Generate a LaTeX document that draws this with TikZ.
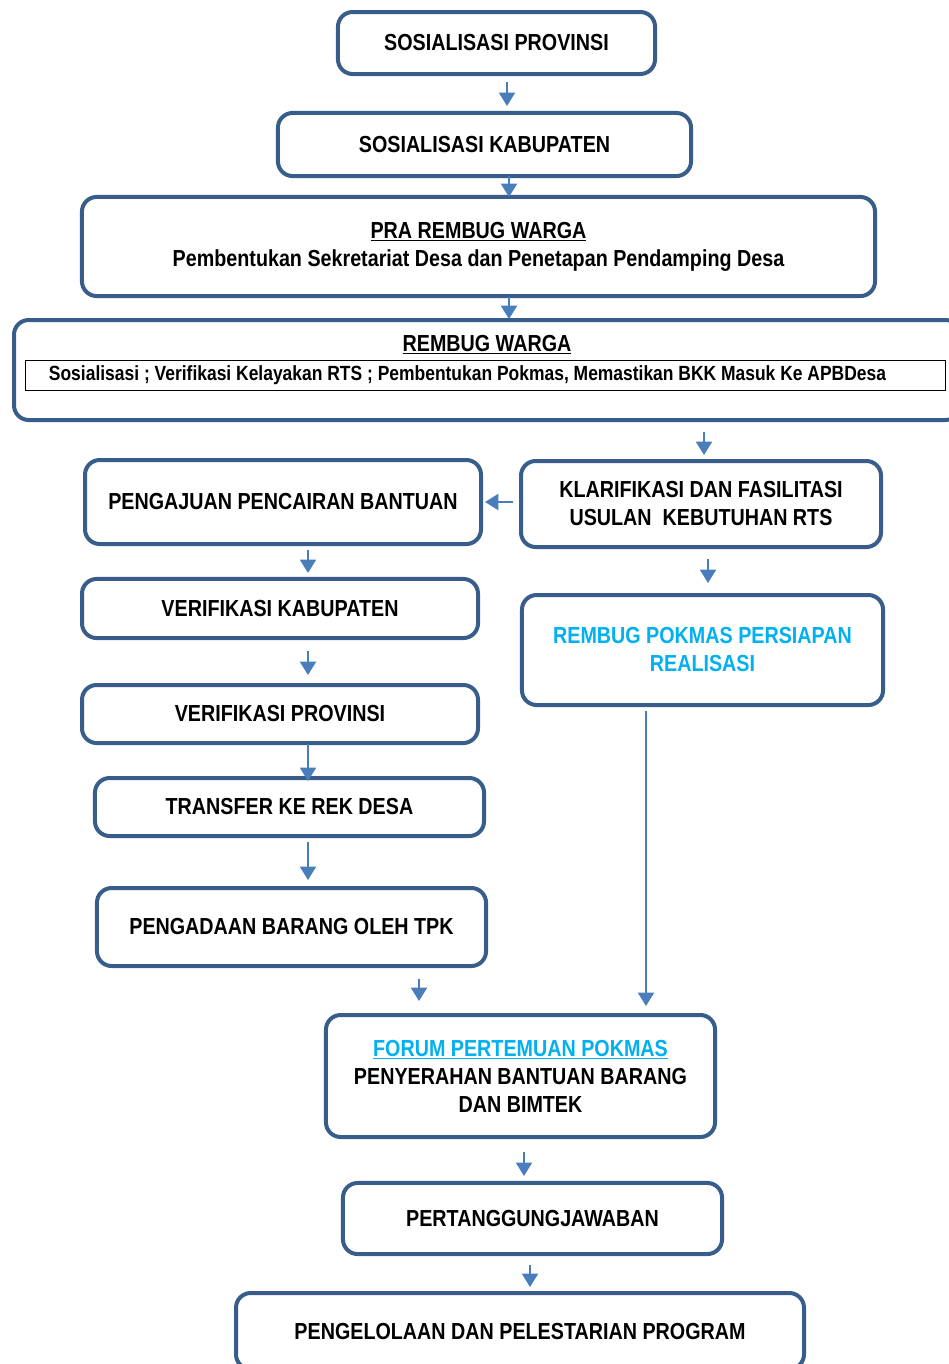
\documentclass[tikz,border=0pt]{standalone}
\usepackage{fontspec}
\setmainfont{Liberation Sans}[FakeStretch=0.85]
\usetikzlibrary{arrows.meta}
\definecolor{boxblue}{RGB}{56,93,138}
\definecolor{arrowblue}{RGB}{74,126,187}
\definecolor{titlecyan}{RGB}{0,176,240}

\begin{document}
\begin{tikzpicture}[x=0.75pt, y=-0.75pt,
  box/.style={draw=boxblue, line width=3pt, rounded corners=11pt, inner sep=0pt, align=center,
    font=\fontsize{17.4}{21}\selectfont\bfseries},
  arr/.style={draw=arrowblue, line width=1.5pt, -{Triangle[width=12pt,length=10pt]}}]
\useasboundingbox (0,0) rectangle (949,1364);
\clip (0,0) rectangle (949,1364);

\node [box, minimum width=237.8pt, minimum height=46.5pt] (sosprov) at (496.5,43) {SOSIALISASI PROVINSI};
\node [box, minimum width=309.8pt, minimum height=47.3pt] (soskab) at (484.5,144.5) {SOSIALISASI KABUPATEN};
\node [box, minimum width=594.8pt, minimum height=74.3pt] (prarembug) at (478.5,246.5)
  {\underline{PRA REMBUG WARGA}\\Pembentukan Sekretariat Desa dan Penetapan Pendamping Desa};

\node [box, minimum width=709.5pt, minimum height=75pt] (rembug) at (487,370) {};
\node [font=\fontsize{17.4}{21}\selectfont\bfseries] (rembugtitle) at (487,345) {\underline{REMBUG WARGA}};
\node [draw, line width=0.75pt, minimum width=689.3pt, minimum height=22.5pt, inner sep=0pt,
  font=\fontsize{15.4}{18}\selectfont\bfseries] (rembuginner) at (485.5,375)
  {\hspace*{-27pt}Sosialisasi ; Verifikasi Kelayakan RTS ; Pembentukan Pokmas, Memastikan BKK Masuk Ke APBDesa};

\node [box, minimum width=270pt, minimum height=64.5pt] (klarifikasi) at (701,504)
  {KLARIFIKASI DAN FASILITASI\\USULAN\ \ KEBUTUHAN RTS};
\node [box, minimum width=297pt, minimum height=63pt] (pengajuan) at (283,502) {PENGAJUAN PENCAIRAN BANTUAN};
\node [box, minimum width=297pt, minimum height=44.3pt] (verkab) at (280,608.5) {VERIFIKASI KABUPATEN};
\node [box, minimum width=297pt, minimum height=43.5pt] (verprov) at (280,714) {VERIFIKASI PROVINSI};
\node [box, minimum width=291.8pt, minimum height=43.5pt] (transfer) at (289.5,807) {TRANSFER KE REK DESA};
\node [box, minimum width=291.8pt, minimum height=58.5pt] (pengadaan) at (291.5,927) {PENGADAAN BARANG OLEH TPK};
\node [box, text=titlecyan, minimum width=270.8pt, minimum height=82.5pt] (rembugpokmas) at (702.5,650)
  {REMBUG POKMAS PERSIAPAN\\REALISASI};
\node [box, minimum width=291.8pt, minimum height=91.5pt] (forum) at (520.5,1076)
  {\textcolor{titlecyan}{\underline{FORUM PERTEMUAN POKMAS}}\\PENYERAHAN BANTUAN BARANG\\DAN BIMTEK};
\node [box, minimum width=284.3pt, minimum height=53.3pt] (tanggungjawab) at (532.5,1218.5) {PERTANGGUNGJAWABAN};
\node [box, minimum width=426pt, minimum height=57pt] (pengelolaan) at (520,1331) {PENGELOLAAN DAN PELESTARIAN PROGRAM};

% alur utama
\draw[arr, shorten <=4.5pt, shorten >=3.75pt] (507,0 |- sosprov.south) -- (507,0 |- soskab.north);
\draw[arr, shorten <=-1.5pt, shorten >=-1.5pt] (509,0 |- soskab.south) -- (509,0 |- prarembug.north);
\draw[arr, shorten <=-0.75pt, shorten >=-0.75pt] (509,0 |- prarembug.south) -- (509,0 |- rembug.north);
\draw[arr, shorten <=7.5pt, shorten >=3pt] (704,0 |- rembug.south) -- (704,0 |- klarifikasi.north);
\draw[arr, shorten <=4.5pt, shorten >=1.5pt] (pengajuan.east -| klarifikasi.west) -- (pengajuan.east);
\draw[arr, shorten <=7.5pt, shorten >=7.5pt] (708,0 |- klarifikasi.south) -- (708,0 |- rembugpokmas.north);

% jalur pencairan
\draw[arr, shorten <=3pt, shorten >=3pt] (308,0 |- pengajuan.south) -- (308,0 |- verkab.north);
\draw[arr, shorten <=8.25pt, shorten >=6pt] (308,0 |- verkab.south) -- (308,0 |- verprov.north);
\draw[arr, shorten <=-0.75pt, shorten >=-3.75pt] (308,0 |- verprov.south) -- (308,0 |- transfer.north);
\draw[arr, shorten <=3pt, shorten >=4.5pt] (308,0 |- transfer.south) -- (308,0 |- pengadaan.north);
\draw[arr, shorten <=8.25pt, shorten >=9pt] (419,0 |- pengadaan.south) -- (419,0 |- forum.north);
\draw[arr, shorten <=3pt, shorten >=5.25pt] (646,0 |- rembugpokmas.south) -- (646,0 |- forum.north);

% penutup
\draw[arr, shorten <=9.75pt, shorten >=3.75pt] (524,0 |- forum.south) -- (524,0 |- tanggungjawab.north);
\draw[arr, shorten <=6.75pt, shorten >=3pt] (530,0 |- tanggungjawab.south) -- (530,0 |- pengelolaan.north);
\end{tikzpicture}
\end{document}
